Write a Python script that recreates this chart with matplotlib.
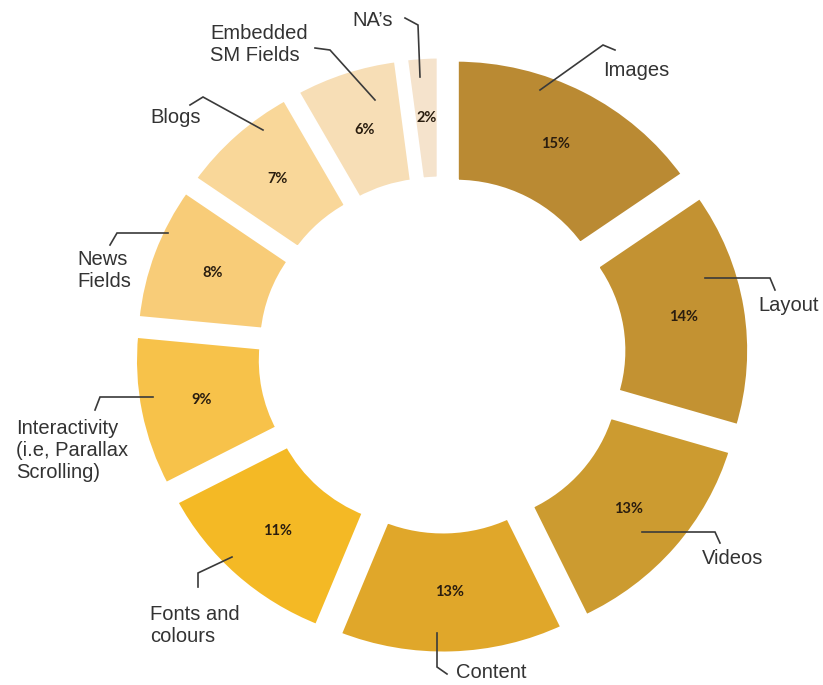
import matplotlib.pyplot as plt
import numpy as np

categories = ["Images", "Layout", "Videos", "Content", "Fonts and\ncolours",
              "Interactivity\n(i.e, Parallax\nScrolling)", "News\nFields", "Blogs",
              "Embedded\nSM Fields", "NA\u2019s"]
shares = [15, 14, 13, 13, 11, 9, 8, 7, 6, 2]
colors = ["#BA8A33", "#C39232", "#CC9B30", "#E0A72A", "#F4B925",
          "#F7C24A", "#F8CC78", "#F9D799", "#F7DEB6", "#F5E3CC"]

# label placement in pixel coords (origin top-left): text anchor + leader line
label_pos = [(603, 70), (758, 305), (702, 558), (456, 673), (150, 625),
             (16, 450), (77, 270), (150, 117), (210, 44), (352, 20)]
leaders = [
    [(540, 90), (603, 45), (615, 50)],
    [(705, 278), (770, 278), (775, 290)],
    [(642, 532), (715, 532), (720, 543)],
    [(437, 633), (437, 667), (447, 674)],
    [(232, 557), (198, 573), (198, 587)],
    [(153, 397), (100, 397), (95, 410)],
    [(168, 233), (117, 233), (110, 245)],
    [(263, 130), (203, 97), (190, 105)],
    [(375, 100), (330, 50), (315, 48)],
    [(420, 77), (418, 25), (405, 18)],
]

W, H = 823, 685
cx, cy = 442, H - 355
sx = 1.03  # the original ring is a touch wider than tall


def px_x(x):
    return cx + (x - cx) / sx


fig = plt.figure(figsize=(W / 100, H / 100), dpi=100)
ax = fig.add_axes([0, 0, 1, 1])

wedges, _ = ax.pie(shares, colors=colors, startangle=90, counterclock=False,
                   center=(cx, cy), radius=272, explode=[28] * len(shares),
                   wedgeprops=dict(width=125, edgecolor="white", linewidth=5))

for w, v in zip(wedges, shares):
    th = np.deg2rad((w.theta1 + w.theta2) / 2)
    rm = w.r - w.width / 2
    ax.text(w.center[0] + rm * np.cos(th), w.center[1] + rm * np.sin(th), f"{v}%",
            ha="center", va="center", fontsize=10.5, fontweight="bold",
            family="Lato", color="#2a1d0f")

for name, (tx, ty), pts in zip(categories, label_pos, leaders):
    xs = [px_x(p[0]) for p in pts]
    ys = [H - p[1] for p in pts]
    ax.plot(xs, ys, color="#3a3a3a", lw=1.2, solid_joinstyle="miter")
    ax.text(px_x(tx), H - ty, name, ha="left", va="center", fontsize=14.5,
            family="Liberation Sans", color="#333333", linespacing=1.2)

ax.set_aspect("auto")
ax.set_xlim(cx - cx / sx, cx + (W - cx) / sx)
ax.set_ylim(0, H)
ax.axis("off")

fig.savefig("out.png", dpi=100)
